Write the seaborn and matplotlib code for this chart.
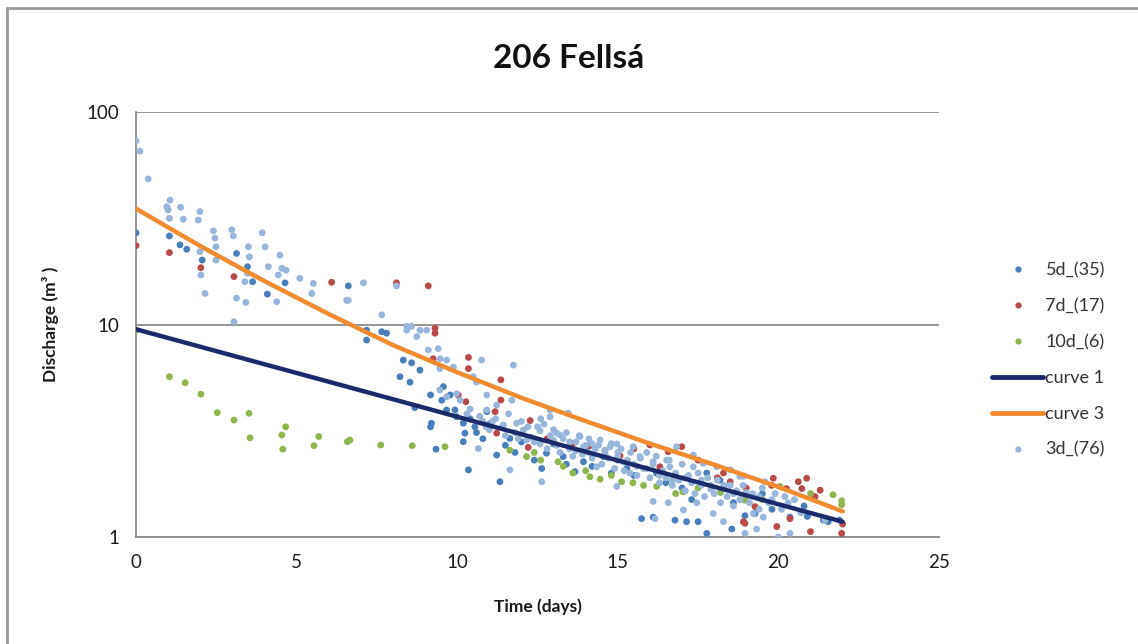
import matplotlib
matplotlib.use("Agg")
import matplotlib.pyplot as plt
import seaborn as sns
from matplotlib.lines import Line2D

# ---- data ----
t_5d = [0, 1.04, 1.37, 1.58, 2.06, 3.13, 3.47, 3.63, 4.09, 4.64, 6.61, 7.18, 7.18, 7.65, 7.8,
        8.22, 8.32, 8.53, 8.58, 8.68, 8.84, 9.17, 9.2, 9.17, 9.34, 9.52, 9.57, 9.67, 9.78, 9.93,
        9.98, 10.19, 10.24, 10.19, 10.35, 10.55, 10.92, 11.23, 11.33, 11.64, 12.63, 12.78, 13.0,
        13.3, 13.67, 13.93, 14.0, 14.55, 15.0, 15.28, 15.74, 16.1, 16.2, 16.78, 17.0, 17.14, 17.5,
        17.77, 17.77, 18.18, 18.55, 18.96, 19.27, 19.5, 20.36, 20.8, 21.4, 21.55, 21.9,
        10.4, 10.6, 10.8, 11.0, 11.5, 11.8, 12.0, 12.4, 13.4, 14.2, 14.8, 15.5, 16.5, 17.3,
        18.6, 19.8, 20.9]
q_5d = [27, 26.1, 23.7, 22.6, 20.1, 21.6, 18.7, 15.9, 13.9, 15.7, 15.2, 8.45, 9.4, 9.25, 9.1,
        5.68, 6.8, 5.35, 6.6, 4.06, 6.1, 4.66, 3.43, 3.30, 2.59, 4.4, 5.1, 3.96, 4.66, 3.96,
        3.68, 3.43, 3.08, 2.81, 2.07, 3.30, 3.89, 2.43, 1.82, 2.91, 2.10, 2.48, 2.74,
        2.39, 2.03, 2.26, 2.6, 2.39, 2.3, 2.10, 1.22, 1.24, 2.0, 1.20, 1.7, 1.18, 1.18,
        1.04, 2.0, 1.85, 1.09, 1.26, 1.29, 1.6, 1.24, 1.4, 1.20, 1.18, 1.2,
        3.6, 3.1, 2.9, 3.4, 2.7, 2.5, 2.8, 2.3, 2.2, 2.15, 2.0, 1.95, 1.8, 1.5,
        1.45, 1.35, 1.25]

t_7d = [0, 1.04, 2.02, 3.05, 6.09, 8.11, 9.1, 9.31, 9.31, 9.25, 10.03, 10.27, 10.35, 10.35,
        11.18, 11.23, 11.36, 11.36, 12.21, 12.27, 14.13, 15.07, 16.0, 16.31, 16.57, 16.99,
        18.29, 18.5, 18.91, 18.96, 19.27, 19.79, 19.84, 19.95, 20.25, 20.36, 20.62, 20.73,
        20.88, 21.0, 21.14, 21.3, 21.97, 22.0,
        12.8, 13.6, 14.6, 15.5, 17.5, 18.1, 19.0]
q_7d = [23.5, 21.8, 18.5, 16.8, 15.8, 15.7, 15.2, 9.6, 9.1, 6.9, 4.66, 4.33, 7.0, 6.2,
        3.89, 3.08, 5.49, 4.41, 2.64, 3.53, 2.69, 2.41, 2.71, 2.14, 2.52, 2.66,
        2.0, 1.82, 1.18, 1.16, 1.39, 1.75, 1.89, 1.12, 1.69, 1.22, 1.82, 1.69,
        1.89, 1.06, 1.55, 1.66, 1.04, 1.15,
        2.9, 2.75, 2.55, 2.6, 2.3, 1.9, 1.7]

t_10d = [0, 1.04, 1.53, 2.02, 2.53, 3.05, 3.52, 3.55, 4.54, 4.57, 4.66, 5.54, 5.69, 6.58,
         6.66, 7.62, 8.60, 9.62, 11.64, 12.16, 12.4, 13.14, 13.3, 14.13, 14.45, 14.8, 15.12,
         15.47, 16.21, 17.03, 17.5, 18.2, 18.96, 20.05, 21.0, 21.7, 21.97, 21.97,
         12.6, 13.6, 14.0, 15.8, 16.8, 19.5]
q_10d = [9.4, 5.68, 5.32, 4.70, 3.85, 3.55, 3.82, 2.93, 3.02, 2.59, 3.30, 2.69, 2.97, 2.81,
         2.86, 2.71, 2.69, 2.66, 2.56, 2.39, 2.50, 2.26, 2.15, 1.92, 1.87, 1.95, 1.82,
         1.80, 1.73, 1.63, 1.70, 1.62, 1.49, 1.73, 1.60, 1.58, 1.48, 1.42,
         2.3, 2.0, 2.05, 1.75, 1.6, 1.5]

t_3d = [0, 0.12, 0.38, 0.96, 1.0, 1.04, 1.06, 1.39, 1.47, 1.94, 1.99, 1.99, 2.02, 2.15, 2.41,
        2.46, 2.49, 2.49, 2.98, 3.03, 3.05, 3.13, 3.39, 3.42, 3.47, 3.5, 3.53, 3.93, 4.02, 4.12,
        4.38, 4.43, 4.48, 4.54, 4.67, 5.1, 5.47, 5.52, 6.56, 6.61, 7.08, 7.65, 8.11, 8.43, 8.43,
        8.58, 8.74, 8.84, 9.05, 9.1, 9.41, 9.46, 9.46, 9.47, 9.67, 9.67, 9.88, 9.98, 10.09,
        10.5, 10.6, 10.66, 10.76, 10.92, 10.92, 11.23, 11.44, 11.64, 11.7, 11.75, 11.85, 12.06,
        12.16, 12.58, 12.58, 12.63, 12.89, 12.89, 13.1, 13.2, 13.46, 13.82, 13.93, 14.34, 14.45,
        14.76, 14.97, 14.97, 15.38, 15.48, 15.69, 16.1, 16.1, 16.16, 16.52, 16.57, 16.62, 16.83,
        17.04, 17.35, 17.35, 17.46, 17.66, 17.97, 18.08, 18.29, 18.5, 18.8, 18.91, 18.96, 19.22,
        19.32, 19.53, 19.58, 20.0, 20.36, 21.45,
        10.3, 10.8, 11.0, 11.5, 11.9, 12.3, 12.5, 13.0, 13.5, 13.7, 14.1, 14.2, 14.6, 15.0, 15.2,
        15.6, 15.9, 16.3, 16.7, 17.1, 17.6, 17.9, 18.3, 18.6, 19.0, 19.4, 19.8, 20.3,
        12.7, 12.8, 12.9, 13.0, 13.1, 13.2, 13.3, 13.4, 13.5, 13.6, 13.7, 13.8, 13.9, 14.0,
        14.1, 14.2, 14.3, 14.4, 14.5, 14.6, 14.7, 14.8, 14.9, 15.0, 15.1, 15.2, 15.3, 15.4,
        15.5, 15.6, 15.7, 15.8, 15.9, 16.0, 16.1, 16.2, 16.3, 16.4, 16.5, 16.6, 16.7, 16.8,
        16.9, 17.0, 17.1, 17.2, 17.3, 17.4, 17.5, 17.6, 17.7, 17.8, 17.9, 18.0, 18.1, 18.2,
        18.3, 18.4, 18.5, 18.6, 18.7, 18.8, 18.9, 19.1, 19.2, 19.4, 19.5, 19.7, 19.9, 20.1,
        20.2, 20.5, 20.7, 11.2, 11.4, 11.6, 11.8, 12.0, 12.2, 12.4, 12.6, 10.4, 10.7, 10.9, 11.1]
q_3d = [73, 65.5, 48.4, 35.8, 34.6, 31.6, 38.5, 35.6, 31.3, 31, 34, 22, 17.1, 14.0, 27.6,
        25.5, 23.2, 20.1, 27.9, 26.1, 10.3, 13.3, 15.9, 12.7, 17.4, 23.2, 20.8, 27.0, 23.2, 18.7,
        12.8, 17.1, 21.2, 18.4, 18.0, 16.5, 14.0, 15.6, 13.0, 13.0, 15.7, 11.1, 15.2, 9.4, 9.8,
        9.8, 8.77, 9.4, 9.4, 7.59, 7.7, 4.92, 6.2, 6.9, 6.8, 4.57, 6.3, 4.72, 4.4,
        5.69, 5.35, 2.61, 6.8, 4.66, 3.96, 4.18, 3.37, 2.07, 4.4, 6.44, 3.43, 3.19,
        2.86, 3.16, 2.74, 1.82, 3.68, 3.96, 3.08, 3.02, 3.83, 2.97, 2.66, 2.14, 2.86,
        2.66, 2.74, 1.73, 2.0, 2.66, 2.39, 2.26, 1.47, 1.22, 2.30, 1.45, 2.14, 2.66,
        1.34, 2.43, 2.14, 1.45, 2.22, 1.29, 2.14, 1.18, 2.07, 1.93, 1.93, 1.04, 1.29,
        1.09, 1.24, 1.82, 1.0, 1.04, 1.20,
        3.8, 3.5, 3.2, 3.0, 2.9, 2.95, 3.3, 2.85, 2.8, 2.55, 2.5, 2.75, 2.45, 2.5, 2.25,
        2.15, 2.1, 1.95, 1.85, 1.9, 1.75, 1.68, 1.75, 1.6, 1.62, 1.55, 1.5, 1.45,
        3.4, 2.6, 3.0, 3.2, 2.7, 2.5, 2.9, 3.1, 2.6, 2.4, 2.8, 3.0, 2.45, 2.7,
        2.9, 2.35, 2.6, 2.7, 2.2, 2.55, 2.35, 2.75, 2.1, 2.4, 2.6, 2.05, 2.3, 2.5,
        2.2, 1.95, 2.35, 2.1, 2.5, 1.9, 2.2, 2.4, 1.8, 2.05, 1.9, 2.3, 1.75, 2.0,
        1.85, 2.2, 1.65, 1.95, 1.8, 1.6, 2.0, 1.85, 1.55, 1.9, 1.75, 1.6, 1.85, 1.45,
        1.7, 1.55, 1.75, 1.4, 1.65, 1.5, 1.75, 1.45, 1.6, 1.35, 1.7, 1.45, 1.6, 1.35,
        1.55, 1.5, 1.3, 3.6, 3.3, 3.8, 3.1, 3.5, 3.3, 2.8, 3.6, 4.0, 3.7, 3.3, 3.5]

t_curve1 = [0, 22]
q_curve1 = [9.5, 1.18]

t_curve3 = [0, 2, 4, 6, 8, 10, 12, 14, 16, 18, 20, 22]
q_curve3 = [35.1, 23.4, 16.0, 11.2, 8.0, 5.96, 4.52, 3.51, 2.75, 2.19, 1.72, 1.32]

labels = ["5d_(35)", "7d_(17)", "10d_(6)", "curve 1", "curve 3", "3d_(76)"]

# ---- style ----
sns.set_style("white")
plt.rcParams['font.family'] = ['Lato', 'DejaVu Sans']

C5, C7, C10, C3 = "#4A7EBB", "#B94A48", "#8DB64E", "#98B5DA"
CN, CO = "#1B2A6B", "#F28A30"
GRID = "#8C8C8C"

fig = plt.figure(figsize=(11.38, 6.44), dpi=100)
ax = fig.add_axes([136/1138, 1-537/644, (939-136)/1138, (537-112)/644])

ms = 24
sns.scatterplot(x=t_5d, y=q_5d, color=C5, s=ms, edgecolor="none", ax=ax, zorder=3)
sns.scatterplot(x=t_7d, y=q_7d, color=C7, s=ms, edgecolor="none", ax=ax, zorder=3)
sns.scatterplot(x=t_10d, y=q_10d, color=C10, s=ms, edgecolor="none", ax=ax, zorder=3)
sns.scatterplot(x=t_3d, y=q_3d, color=C3, s=ms, edgecolor="none", ax=ax, zorder=4)
sns.lineplot(x=t_curve1, y=q_curve1, color=CN, lw=3.2, ax=ax, zorder=5)
sns.lineplot(x=t_curve3, y=q_curve3, color=CO, lw=3.2, ax=ax, zorder=5)

ax.set_yscale("log")
ax.set_xlim(0, 25)
ax.set_ylim(1, 100)
ax.set_xticks([0, 5, 10, 15, 20, 25])
ax.set_yticks([1, 10, 100])
ax.set_yticklabels(["1", "10", "100"])
ax.minorticks_off()
ax.yaxis.grid(True, color=GRID, lw=1.3)
ax.set_axisbelow(True)
for s in ["top", "right"]:
    ax.spines[s].set_visible(False)
for s in ["left", "bottom"]:
    ax.spines[s].set_color(GRID)
    ax.spines[s].set_linewidth(1.3)
ax.tick_params(axis="both", direction="out", length=6, width=1.2, color=GRID,
               labelsize=13.5, labelcolor="#1a1a1a", pad=6)

ax.set_xlabel("Time (days)", fontsize=12.5, fontweight="bold", labelpad=20, color="#1a1a1a")
ax.set_ylabel("Discharge (m³ )", fontsize=12.5, fontweight="bold", labelpad=20, color="#1a1a1a")
fig.text(0.5, 1-58/644, "206 Fellsá", ha="center", va="center", fontsize=24,
         fontweight="bold", color="#111111")

handles = [
    Line2D([], [], ls="none", marker="o", ms=4.5, color=C5, mec="none"),
    Line2D([], [], ls="none", marker="o", ms=4.5, color=C7, mec="none"),
    Line2D([], [], ls="none", marker="o", ms=4.5, color=C10, mec="none"),
    Line2D([], [], color=CN, lw=3.5),
    Line2D([], [], color=CO, lw=3.5),
    Line2D([], [], ls="none", marker="o", ms=4.5, color=C3, mec="none"),
]
leg = fig.legend(handles, labels, loc="center left", bbox_to_anchor=(985/1138, 1-360/644),
                 frameon=False, fontsize=13, handlelength=2.8, handletextpad=0.15,
                 labelspacing=1.1, borderaxespad=0)
for txt in leg.get_texts():
    txt.set_color("#333333")

# outer chart frame
fig.add_artist(Line2D([7/1138, 1.0], [1-8/644, 1-8/644], color="#9a9a9a", lw=2,
                      transform=fig.transFigure))
fig.add_artist(Line2D([7/1138, 7/1138], [0, 1-8/644], color="#9a9a9a", lw=2,
                      transform=fig.transFigure))

fig.savefig("out.png", dpi=100)
